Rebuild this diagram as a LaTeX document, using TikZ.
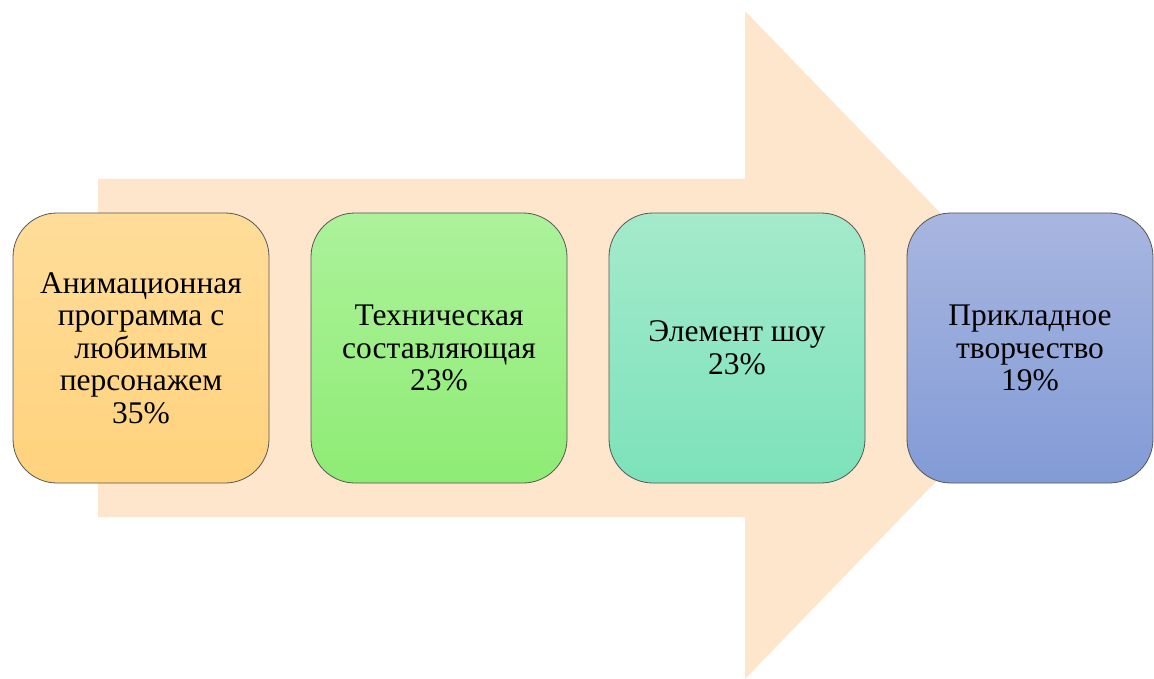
\documentclass[tikz,border=0pt]{standalone}
\usepackage{fontspec}
\setmainfont{Liberation Serif}
\newfontfamily\tnr{Liberation Serif}
\definecolor{arrowfill}{RGB}{253,230,203}
\definecolor{oTop}{RGB}{255,221,153}
\definecolor{oBot}{RGB}{255,210,125}
\definecolor{gTop}{RGB}{172,242,155}
\definecolor{gBot}{RGB}{142,236,116}
\definecolor{tTop}{RGB}{164,234,203}
\definecolor{tBot}{RGB}{124,226,186}
\definecolor{bTop}{RGB}{168,182,224}
\definecolor{bBot}{RGB}{130,155,214}
\definecolor{edge}{RGB}{85,85,85}
\tikzset{
  stagebox/.style={rectangle, rounded corners=44pt, draw=edge, line width=0.8pt,
    minimum height=270pt, align=center, inner sep=2pt,
    font=\tnr\fontsize{31.5}{32.5}\selectfont, text=black},
}
\begin{document}
\begin{tikzpicture}[x=1pt,y=-1pt]
\useasboundingbox (0,0) rectangle (1154,679);
% big arrow
\fill[arrowfill] (98,179) -- (745,179) -- (745,11) -- (1068,345) -- (745,679) -- (745,517) -- (98,517) -- cycle;
% boxes
\node[stagebox, minimum width=256pt, top color=oTop, bottom color=oBot] (b1) at (141,348)
  {Анимационная\\программа с\\любимым\\персонажем\\35\%};
\node[stagebox, minimum width=256pt, top color=gTop, bottom color=gBot] (b2) at (439,348)
  {Техническая\\составляющая\\23\%};
\node[stagebox, minimum width=256pt, top color=tTop, bottom color=tBot] (b3) at (737,348)
  {Элемент шоу\\23\%};
\node[stagebox, minimum width=246pt, top color=bTop, bottom color=bBot] (b4) at (1030,348)
  {Прикладное\\творчество\\19\%};
\end{tikzpicture}
\end{document}
